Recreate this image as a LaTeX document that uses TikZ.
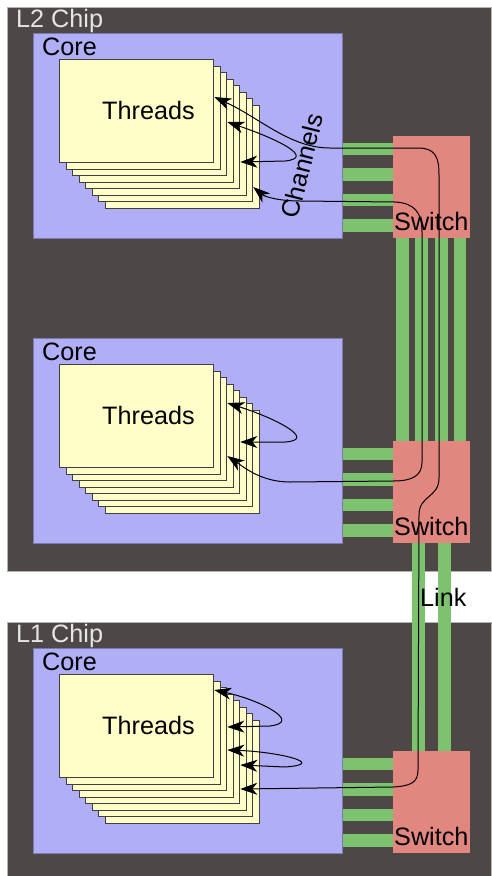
\documentclass[tikz,border=0pt]{standalone}
\usepackage{fontspec}
\setmainfont{Liberation Sans}
\usetikzlibrary{arrows.meta, calc}
\tikzset{every node/.style={font=\fontsize{25.2}{30}\selectfont, inner sep=0pt}}
\tikzset{
  chip/.style={fill=chipcol, draw=gray!60, line width=1pt},
  core/.style={fill=corecol, draw=corecol!70!black, line width=0.8pt},
  card/.style={fill=cardcol, draw=black!75, line width=1.3pt, minimum width=154pt, minimum height=103pt},
  switchbox/.style={fill=switchcol, minimum width=77pt, minimum height=102pt},
  greenbar/.style={draw=barcol, line width=12.5pt},
  chan/.style={draw=black, line width=1pt}
}

\begin{document}
\begin{tikzpicture}[x=1pt, y=-1pt, >={Stealth[length=17pt, width=12pt, inset=5pt]}]
  % Bounding box fixe (image size)
  \path[use as bounding box] (0,0) rectangle (491,876);

  % Colors.
  \definecolor{chipcol}{HTML}{4D4845}
  \definecolor{corecol}{HTML}{B0AEF6}
  \definecolor{cardcol}{HTML}{FFFDC8}
  \definecolor{switchcol}{HTML}{E28680}
  \definecolor{barcol}{HTML}{7DC26E}

  % Chips.
  \node[chip, anchor=north west, minimum width=484pt, minimum height=564pt] (chip-L2) at (7,7) {};
  \node[chip, anchor=north west, minimum width=484pt, minimum height=256pt] (chip-L1) at (7,622) {};
  \node[anchor=base west, text=white!90!black] (chiplabel-L2) at (16,27) {L2 Chip};
  \node[anchor=base west, text=white!90!black] (chiplabel-L1) at (16,642) {L1 Chip};

  % Cores, thread stacks and switches.
  \foreach \k/\Y in {a/33, b/338, c/648} {
    \node[core, anchor=north west, minimum width=309pt, minimum height=205pt] (core-\k) at (33,\Y) {};
    \node[anchor=base west] (corelabel-\k) at (42,\Y+22) {Core};
    \foreach \i in {7,6,...,0}
      \node[card, anchor=north west] (thread-\k-\i) at ({59+6.5*\i},{\Y+26+6.5*\i}) {};
    \node[anchor=base west] (threadlabel-\k) at ($(thread-\k-0.north west)+(43,60)$) {Threads};
    \node[switchbox, anchor=south west] (switch-\k) at (393,\Y+205) {};
    \node[anchor=base west] (switchlabel-\k) at ($(switch-\k.south west)+(1,-8)$) {Switch};
    % core to switch wires
    \foreach \j in {116,141.5,167,192.5}
      \draw[greenbar] (core-\k.east |- 0,\Y+\j) -- (switch-\k.west |- 0,\Y+\j);
  }

  % Switch to switch wires.
  \foreach \x in {9.5,28.5,48.5,67}
    \draw[greenbar] ($(switch-a.south west)+(\x,0)$) -- ($(switch-b.north west)+(\x,0)$);
  \foreach \x in {25.5,51.5}
    \draw[greenbar] ($(switch-b.south west)+(\x,0)$) -- ($(switch-c.north west)+(\x,0)$);
  \node[anchor=base west] (linklabel) at (420,606) {Link};

  % Channel end points.
  \coordinate (tipA1) at (thread-a-0.east |- 0,97);
  \coordinate (tipA2) at (thread-a-2.east |- 0,122);
  \coordinate (tipA3) at (thread-a-4.east |- 0,162);
  \coordinate (tipA4) at (thread-a-6.east |- 0,187);
  \coordinate (tipB1) at (thread-b-2.east |- 0,403);
  \coordinate (tipB2) at (thread-b-4.east |- 0,442);
  \coordinate (tipB3) at (thread-b-2.east |- 0,456);
  \coordinate (tipC1) at (thread-c-0.east |- 0,690);
  \coordinate (tipC2) at (thread-c-2.east |- 0,727);
  \coordinate (tipC3) at (thread-c-2.east |- 0,750);
  \coordinate (tipC4) at (thread-c-4.east |- 0,765);
  \coordinate (tipC5) at (thread-c-4.east |- 0,789);

  % Channels.
  \draw[chan, <->] (tipA1) .. controls (260,118) and (290,148) .. (330,148)
    -- (418,148) .. controls (436,148) and (439,158) .. (439,175)
    -- (439,478) .. controls (439,498) and (419,495) .. (419,515)
    -- (418,770) .. controls (418,783) and (410,786) .. (393,787)
    -- (tipC5);
  \draw[chan, <->] (tipA2) .. controls (280,140) and (315,158) .. (285,161) -- (tipA3);
  \draw[chan, <->] (tipB1) .. controls (275,418) and (318,440) .. (285,442) -- (tipB2);
  \draw[chan, <->] (tipA4) .. controls (265,197) and (280,201) .. (300,201)
    -- (395,202) .. controls (414,203) and (422,212) .. (422,232)
    -- (422,462) .. controls (422,476) and (412,481) .. (393,481)
    -- (290,482) .. controls (262,482) and (245,468) .. (tipB3);
  \draw[chan, <->] (tipC1) .. controls (260,700) and (303,722) .. (270,726) -- (tipC2);
  \draw[chan, <->] (tipC3) .. controls (280,752) and (328,764) .. (285,767) -- (tipC4);

  \node[rotate=76] (chanlabel) at (302,166) {Channels};
\end{tikzpicture}
\end{document}
